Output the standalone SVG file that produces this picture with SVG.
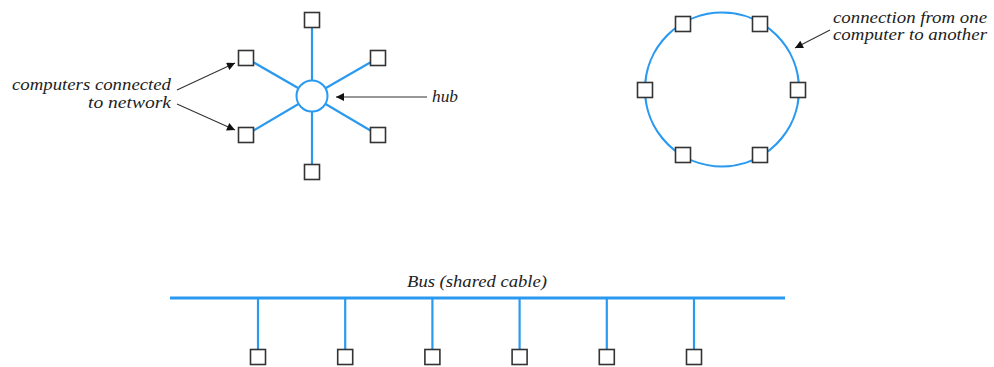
<svg xmlns="http://www.w3.org/2000/svg" width="994" height="367" viewBox="0 0 994 367">
<defs>
<style>
.wire{stroke:#2a9af0;stroke-width:2.2;fill:none}
.bus{stroke:#2a9af0;stroke-width:3.2;fill:none}
.pc{fill:#fff;stroke:#333;stroke-width:1.6}
.hub{fill:#fff;stroke:#2a9af0;stroke-width:2}
.ptr{stroke:#333;stroke-width:1.1;fill:none}
</style>
<marker id="ah" viewBox="0 0 10 10" refX="10" refY="5" markerWidth="11" markerHeight="8" markerUnits="userSpaceOnUse" orient="auto">
<path d="M0,0 L10,5 L0,10 z" fill="#111"/>
</marker>
</defs>
<rect width="994" height="367" fill="#fff"/>
<g id="connectors">
<line class="wire" x1="312" y1="96" x2="312" y2="20"/>
<line class="wire" x1="312" y1="96" x2="312" y2="172"/>
<line class="wire" x1="312" y1="96" x2="246" y2="58"/>
<line class="wire" x1="312" y1="96" x2="378" y2="58"/>
<line class="wire" x1="312" y1="96" x2="246" y2="135"/>
<line class="wire" x1="312" y1="96" x2="378" y2="135"/>
<circle class="wire" cx="722" cy="89.5" r="77"/>
<line class="bus" x1="170" y1="298" x2="785" y2="298"/>
<line class="wire" x1="258" y1="298" x2="258" y2="357"/>
<line class="wire" x1="345.2" y1="298" x2="345.2" y2="357"/>
<line class="wire" x1="432.4" y1="298" x2="432.4" y2="357"/>
<line class="wire" x1="519.6" y1="298" x2="519.6" y2="357"/>
<line class="wire" x1="606.8" y1="298" x2="606.8" y2="357"/>
<line class="wire" x1="694" y1="298" x2="694" y2="357"/>
<line class="ptr" x1="177" y1="90" x2="235" y2="63" marker-end="url(#ah)"/>
<line class="ptr" x1="177" y1="104" x2="235" y2="130" marker-end="url(#ah)"/>
<line class="ptr" x1="427" y1="97" x2="336" y2="97" stroke="#555" marker-end="url(#ah)"/>
<line class="ptr" x1="830" y1="30" x2="795" y2="48" marker-end="url(#ah)"/>
</g>
<g id="hub"><circle class="hub" cx="312" cy="96" r="15.5"/></g>
<g id="star-pc1"><rect class="pc" x="304.5" y="12.5" width="15" height="15"/></g>
<g id="star-pc2"><rect class="pc" x="238.5" y="50.5" width="15" height="15"/></g>
<g id="star-pc3"><rect class="pc" x="370.5" y="50.5" width="15" height="15"/></g>
<g id="star-pc4"><rect class="pc" x="238.5" y="127.5" width="15" height="15"/></g>
<g id="star-pc5"><rect class="pc" x="370.5" y="127.5" width="15" height="15"/></g>
<g id="star-pc6"><rect class="pc" x="304.5" y="164.5" width="15" height="15"/></g>
<g id="ring-pc1"><rect class="pc" x="675.5" y="16.5" width="15" height="15"/></g>
<g id="ring-pc2"><rect class="pc" x="752.5" y="16.5" width="15" height="15"/></g>
<g id="ring-pc3"><rect class="pc" x="637.5" y="82.5" width="15" height="15"/></g>
<g id="ring-pc4"><rect class="pc" x="790.5" y="82.5" width="15" height="15"/></g>
<g id="ring-pc5"><rect class="pc" x="675.5" y="147.5" width="15" height="15"/></g>
<g id="ring-pc6"><rect class="pc" x="752.5" y="147.5" width="15" height="15"/></g>
<g id="bus-pc1"><rect class="pc" x="250.5" y="349.5" width="15" height="15"/></g>
<g id="bus-pc2"><rect class="pc" x="337.7" y="349.5" width="15" height="15"/></g>
<g id="bus-pc3"><rect class="pc" x="424.9" y="349.5" width="15" height="15"/></g>
<g id="bus-pc4"><rect class="pc" x="512.1" y="349.5" width="15" height="15"/></g>
<g id="bus-pc5"><rect class="pc" x="599.3" y="349.5" width="15" height="15"/></g>
<g id="bus-pc6"><rect class="pc" x="686.5" y="349.5" width="15" height="15"/></g>
<g id="labels" font-family="Liberation Serif, DejaVu Serif, serif" font-style="italic" font-size="16" fill="#222">
<text x="171" y="90" text-anchor="end" textLength="159" lengthAdjust="spacingAndGlyphs">computers connected</text>
<text x="171" y="108" text-anchor="end" textLength="83" lengthAdjust="spacingAndGlyphs">to network</text>
<text x="432" y="102" textLength="26" lengthAdjust="spacingAndGlyphs">hub</text>
<text x="833" y="23" textLength="154" lengthAdjust="spacingAndGlyphs">connection from one</text>
<text x="833" y="40" textLength="154" lengthAdjust="spacingAndGlyphs">computer to another</text>
<text x="407" y="287" textLength="140" lengthAdjust="spacingAndGlyphs">Bus (shared cable)</text>
</g>
</svg>
